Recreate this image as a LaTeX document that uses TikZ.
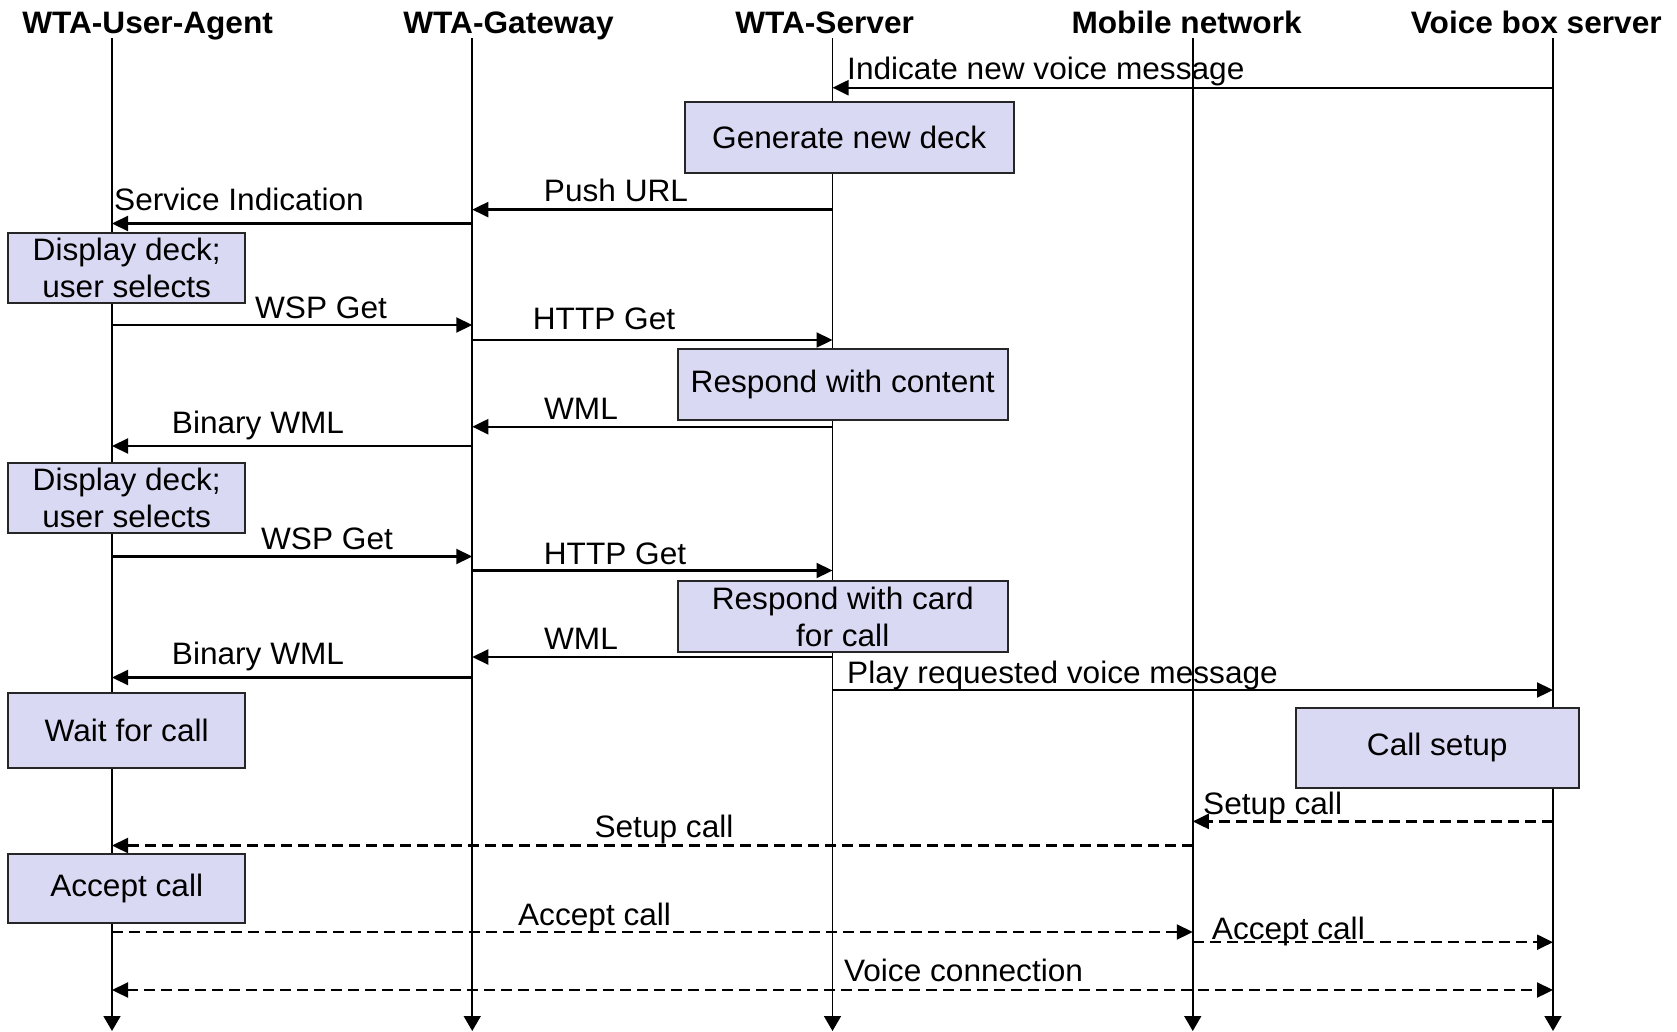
\documentclass[tikz,border=0pt]{standalone}
\usepackage{fontspec}
\setmainfont{Liberation Sans}[FakeStretch=1.02]
\usetikzlibrary{arrows.meta}
\definecolor{boxfill}{RGB}{217,217,243}
\begin{document}
\begin{tikzpicture}[x=1pt,y=-1pt,
  every node/.style={font=\fontsize{31pt}{37pt}\selectfont, inner sep=0pt},
  head/.style={font=\fontsize{31pt}{37pt}\selectfont\bfseries, anchor=base},
  lifeline/.style={line width=1.6pt, -{Triangle[length=15pt,width=17pt]}},
  msg/.style={line width=2.2pt, -{Triangle[length=16pt,width=15pt]}},
  reply/.style={msg, dash pattern=on 11pt off 6pt},
  act/.style={draw=black!85, line width=2pt, fill=boxfill, align=center},
  lbl/.style={anchor=base, yshift=-1.5pt},
  lblw/.style={anchor=base west, yshift=-1.5pt}]
\useasboundingbox (0,0) rectangle (1677,1032);

% lifeline top and bottom points
\foreach \n/\x in {ua/112, gw/472.25, ws/832.5, mn/1192.75, vb/1553} {
  \coordinate (\n) at (\x,38);
  \coordinate (\n-end) at (\x,1031);
}

% participants
\node[head] (h-ua) at (147.6,34) {WTA-User-Agent};
\node[head] (h-gw) at (508.5,34) {WTA-Gateway};
\node[head] (h-ws) at (824.6,34) {WTA-Server};
\node[head] (h-mn) at (1186.6,34) {Mobile network};
\node[head] (h-vb) at (1536.3,34) {Voice box server};

% lifelines
\foreach \n in {ua,gw,ws,mn,vb}
  \draw[lifeline] (\n) -- (\n-end);

% activity boxes
\node[act, minimum width=329.5pt, minimum height=70.5pt] (gen) at (849.25,137.5) {Generate new deck};
\node[act, minimum width=236.6pt, minimum height=69.8pt] (dd1) at (126.7,268.4) {Display deck;\\user selects};
\node[act, minimum width=329.5pt, minimum height=71pt] (rc) at (842.75,384.5) {Respond with content};
\node[act, minimum width=236.6pt, minimum height=70pt] (dd2) at (126.7,497.7) {Display deck;\\user selects};
\node[act, minimum width=329.5pt, minimum height=71.6pt] (rcc) at (842.75,616.5) {Respond with card\\for call};
\node[act, minimum width=236.6pt, minimum height=75pt] (wait) at (126.7,730.8) {Wait for call};
\node[act, minimum width=283.5pt, minimum height=80.3pt] (cs) at (1437.25,747.85) {Call setup};
\node[act, minimum width=236.6pt, minimum height=68.4pt] (ac) at (126.7,888.5) {Accept call};

% messages
\draw[msg] (vb |- 0,87.7) -- (ws |- 0,87.7);
\node[lblw] (l1) at (847,78.5) {Indicate new voice message};

\draw[msg] (ws |- 0,209.6) -- (gw |- 0,209.6);
\node[lbl] (l2) at (616,200) {Push URL};

\draw[msg] (gw |- 0,223.5) -- (ua |- 0,223.5);
\node[lblw] (l3) at (114,209.5) {Service Indication};

\draw[msg] (ua |- 0,325) -- (gw |- 0,325);
\node[lbl] (l4) at (321,316.6) {WSP Get};

\draw[msg] (gw |- 0,340) -- (ws |- 0,340);
\node[lbl] (l5) at (604,328.3) {HTTP Get};

\draw[msg] (ws |- 0,426.7) -- (gw |- 0,426.7);
\node[lbl] (l6) at (581,417.5) {WML};

\draw[msg] (gw |- 0,446) -- (ua |- 0,446);
\node[lbl] (l7) at (258,432) {Binary WML};

\draw[msg] (ua |- 0,556.5) -- (gw |- 0,556.5);
\node[lbl] (l8) at (327,548) {WSP Get};

\draw[msg] (gw |- 0,570.5) -- (ws |- 0,570.5);
\node[lbl] (l9) at (615,562.6) {HTTP Get};

\draw[msg] (ws |- 0,657) -- (gw |- 0,657);
\node[lbl] (l10) at (581,648) {WML};

\draw[msg] (gw |- 0,677.5) -- (ua |- 0,677.5);
\node[lbl] (l11) at (258,663) {Binary WML};

\draw[msg] (ws |- 0,690) -- (vb |- 0,690);
\node[lblw] (l12) at (847,682) {Play requested voice message};

\draw[reply] (vb |- 0,821.4) -- (mn |- 0,821.4);
\node[lblw] (l13) at (1203,812.8) {Setup call};

\draw[reply] (mn |- 0,845.5) -- (ua |- 0,845.5);
\node[lbl] (l14) at (664,836.3) {Setup call};

\draw[reply] (ua |- 0,932) -- (mn |- 0,932);
\node[lbl] (l15) at (594.6,924) {Accept call};

\draw[reply] (mn |- 0,942.2) -- (vb |- 0,942.2);
\node[lblw] (l16) at (1211.7,938) {Accept call};

\draw[reply, {Triangle[length=16pt,width=15pt]}-{Triangle[length=16pt,width=15pt]}] (ua |- 0,990) -- (vb |- 0,990);
\node[lblw] (l17) at (843.8,979.7) {Voice connection};
\end{tikzpicture}
\end{document}
